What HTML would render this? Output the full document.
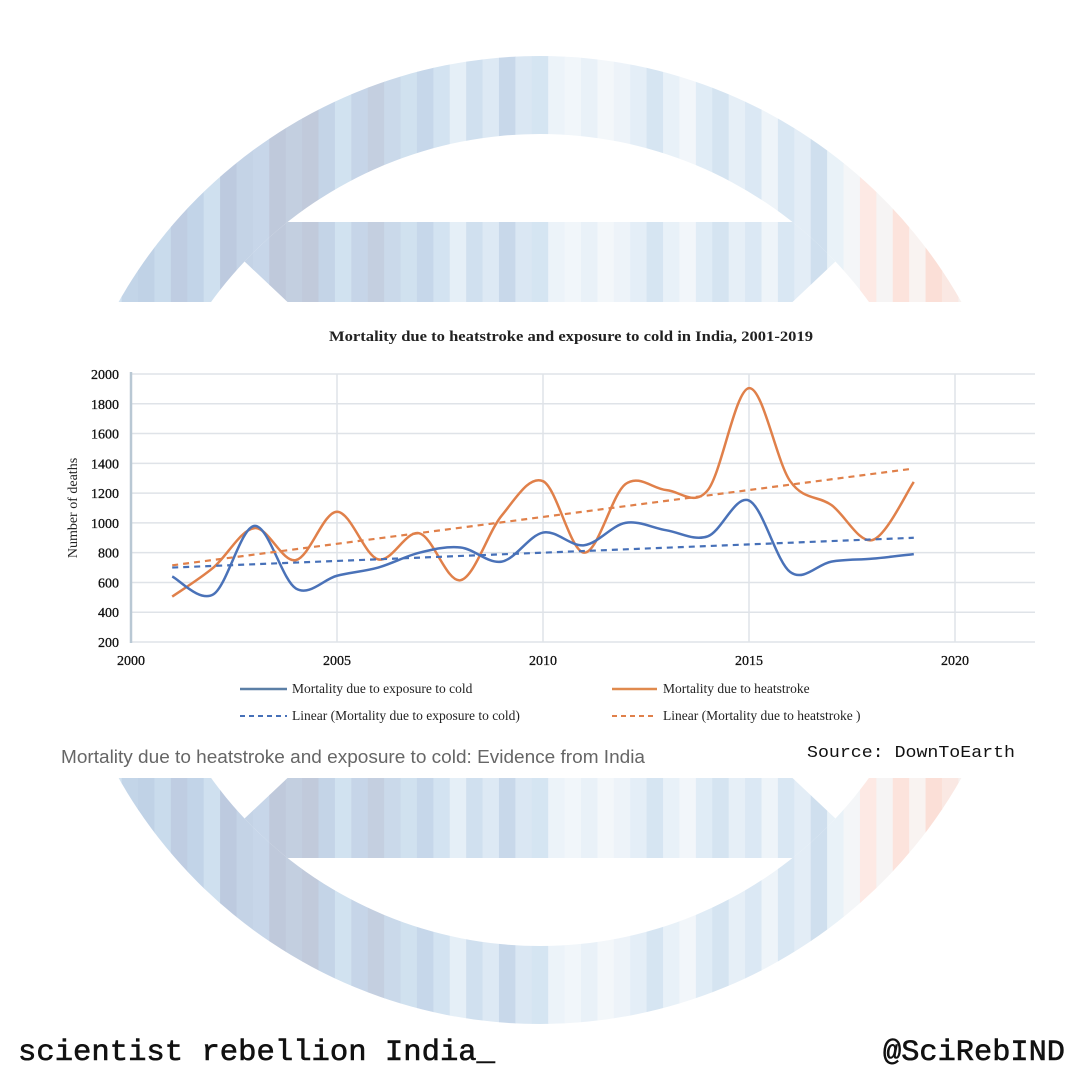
<!DOCTYPE html>
<html><head><meta charset="utf-8"><style>
html,body{margin:0;padding:0;background:#fff;}
svg{display:block;}
</style></head><body>
<svg id="s" width="1080" height="1080" viewBox="0 0 1080 1080" xmlns="http://www.w3.org/2000/svg">
<defs>
<clipPath id="outer"><circle cx="540" cy="540" r="484"/></clipPath>
<clipPath id="innerc"><circle cx="540" cy="540" r="406"/></clipPath>
<g id="stripes"></g>
</defs>
<g clip-path="url(#outer)"><use href="#stripes"/></g>
<circle cx="540" cy="540" r="406" fill="#fff"/>
<g clip-path="url(#innerc)">
<clipPath id="hg"><polygon points="0,222 1080,222 836,261 540,540 244,261"/><polygon points="0,858 1080,858 836,819 540,540 244,819"/></clipPath>
<g clip-path="url(#hg)"><use href="#stripes"/></g>
</g>
<rect x="0" y="302" width="1080" height="476" fill="#fff"/>
<g id="chart" font-family="Liberation Serif, serif">
<text x="571" y="341" font-size="15" font-weight="bold" text-anchor="middle" fill="#222" textLength="484" lengthAdjust="spacingAndGlyphs">Mortality due to heatstroke and exposure to cold in India, 2001-2019</text>
<g id="grid" stroke="#dfe3e8" stroke-width="1.5"></g>
<line x1="131" y1="372" x2="131" y2="643" stroke="#b9c8d4" stroke-width="2.5"/>
<g id="ticks" font-size="14" fill="#111" stroke="#111" stroke-width="0.3"></g>
<text transform="translate(77,508) rotate(-90)" font-size="14" text-anchor="middle" fill="#222">Number of deaths</text>
<g id="series" fill="none"></g>
<g font-size="13.5" fill="#222">
<line x1="240" y1="689" x2="287" y2="689" stroke="#5b7fa6" stroke-width="2.5"/>
<text x="292" y="693">Mortality due to exposure to cold</text>
<line x1="612" y1="689" x2="657" y2="689" stroke="#e08a4e" stroke-width="2.5"/>
<text x="663" y="693">Mortality due to heatstroke</text>
<line x1="240" y1="716" x2="287" y2="716" stroke="#4670b8" stroke-width="2" stroke-dasharray="5,4"/>
<text x="292" y="720">Linear (Mortality due to exposure to cold)</text>
<line x1="612" y1="716" x2="657" y2="716" stroke="#e0804a" stroke-width="2" stroke-dasharray="5,4"/>
<text x="663" y="720">Linear (Mortality due to heatstroke )</text>
</g>
</g>
<text x="61" y="763" font-family="Liberation Sans, sans-serif" font-size="18" fill="#666" textLength="584" lengthAdjust="spacingAndGlyphs">Mortality due to heatstroke and exposure to cold: Evidence from India</text>
<text x="807" y="757" font-family="Liberation Mono, monospace" font-size="17" fill="#111" textLength="208" lengthAdjust="spacingAndGlyphs">Source: DownToEarth</text>
<text x="18" y="1060" font-family="Liberation Mono, monospace" font-size="30" fill="#111" stroke="#111" stroke-width="0.6" textLength="477" lengthAdjust="spacingAndGlyphs">scientist rebellion India_</text>
<text x="1065" y="1060" font-family="Liberation Mono, monospace" font-size="30" fill="#111" stroke="#111" stroke-width="0.6" text-anchor="end" textLength="182" lengthAdjust="spacingAndGlyphs">@SciRebIND</text>
</svg>
<script>
var NS="http://www.w3.org/2000/svg";
function el(t,a,p){var e=document.createElementNS(NS,t);for(var k in a)e.setAttribute(k,a[k]);p.appendChild(e);return e;}
var cols=["#c8d9ea","#c6d8ea","#eef3f8","#d3e3f1","#c3d5e8","#c0d2e6","#c9dbec","#bfcde2","#c2d4e8","#cfe0ef","#bdcadf","#c4d3e6","#c7d6e9","#bfc9db","#c3cfe0","#c1cadb","#c4d4e7","#d1e2f0","#c6d5e8","#c4cfe0","#cad9ea","#d0e1ef","#c6d7ea","#d3e3f1","#e5eff7","#d0e0ef","#dde9f4","#c8d8ea","#dae7f3","#d5e5f2","#ecf3f9","#f1f6fa","#e9f1f8","#f3f7fa","#edf3f9","#e4eef7","#d6e5f2","#e8f1f8","#f2f6fa","#e0ecf6","#d5e4f1","#e6eff7","#dbe8f4","#eef4f9","#d9e7f3","#e3edf6","#cfdfee","#e9f2f8","#f4f6f8","#fde9e4","#f6f4f4","#fce3dc","#f9f3f1","#fbdfd7","#fae8e3","#f8f2f0","#fbd6cc","#f7cbc0","#fbe3dd"];
var sg=document.getElementById("stripes");var x0=56,w=(1024-56)/cols.length;
for(var i=0;i<cols.length;i++)el("rect",{x:x0+i*w,y:0,width:w+0.6,height:1080,fill:cols[i]},sg);
function X(yr){return 131+(yr-2000)*41.2;}
function Y(v){return 642-(v-200)*0.1489;}
var g=document.getElementById("grid"),t=document.getElementById("ticks");
for(var v=200;v<=2000;v+=200){el("line",{x1:131,x2:1035,y1:Y(v),y2:Y(v)},g);var tx=el("text",{x:119,y:Y(v)+5,"text-anchor":"end"},t);tx.textContent=v;}
for(var yr=2005;yr<=2020;yr+=5){el("line",{x1:X(yr),x2:X(yr),y1:374,y2:642},g);}
for(var yr=2000;yr<=2020;yr+=5){var tx=el("text",{x:X(yr),y:665,"text-anchor":"middle"},t);tx.textContent=yr;}
var cold=[640,520,980,560,645,700,800,835,740,935,850,1000,950,910,1150,670,740,760,790];
var heat=[505,700,965,750,1075,755,930,615,1050,1280,800,1260,1220,1220,1905,1280,1120,885,1275];
function path(d){var p=d.map(function(v,i){return [X(2001+i),Y(v)];});var s="M"+p[0][0]+","+p[0][1];
for(var i=0;i<p.length-1;i++){var a=p[i-1]||p[i],b=p[i],c=p[i+1],e=p[i+2]||c;
s+=" C"+(b[0]+(c[0]-a[0])/6)+","+(b[1]+(c[1]-a[1])/6)+" "+(c[0]-(e[0]-b[0])/6)+","+(c[1]-(e[1]-b[1])/6)+" "+c[0]+","+c[1];}return s;}
var sr=document.getElementById("series");
el("path",{d:path(heat),stroke:"#e0804a","stroke-width":2.5},sr);
el("path",{d:path(cold),stroke:"#4a72b8","stroke-width":2.5},sr);
el("line",{x1:X(2001),y1:Y(700),x2:X(2019),y2:Y(900),stroke:"#4670b8","stroke-width":2.2,"stroke-dasharray":"6,5"},sr);
el("line",{x1:X(2001),y1:Y(715),x2:X(2019),y2:Y(1365),stroke:"#e0804a","stroke-width":2.2,"stroke-dasharray":"6,5"},sr);
</script>
</body></html>
